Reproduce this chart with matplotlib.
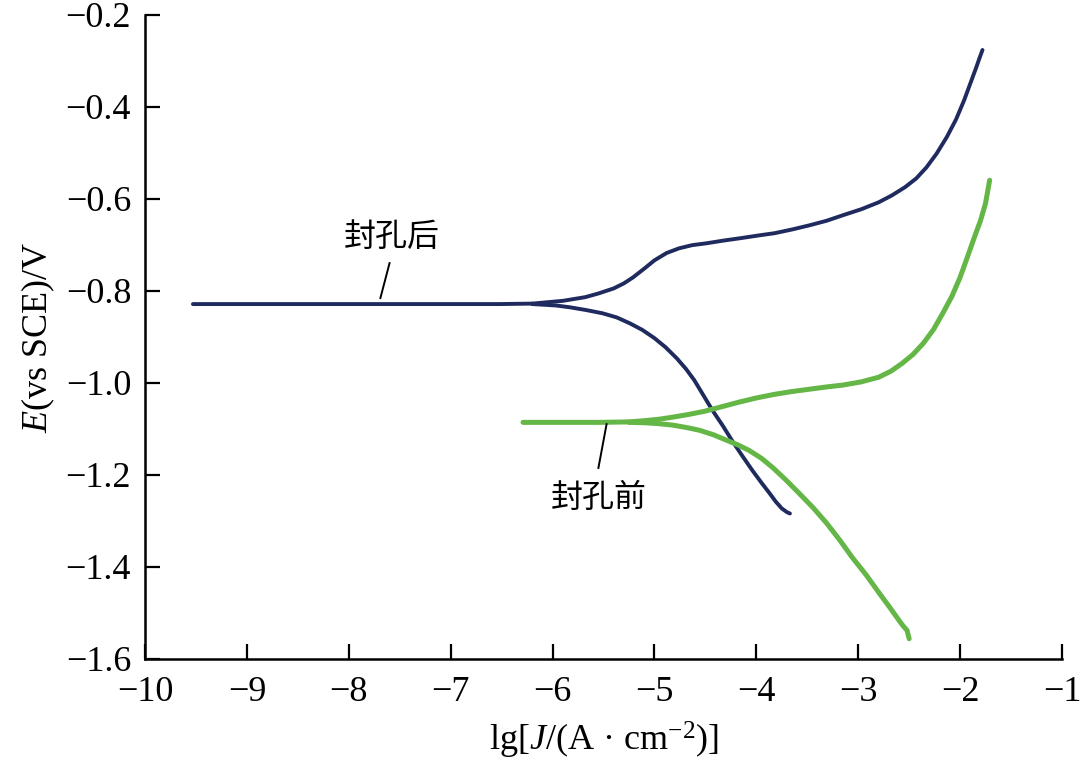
import numpy as np
import matplotlib
matplotlib.use('Agg')
import matplotlib.pyplot as plt

plt.rcParams['font.family'] = ['Liberation Serif', 'Noto Sans CJK SC']
plt.rcParams['mathtext.fontset'] = 'custom'
plt.rcParams['mathtext.rm'] = 'Liberation Serif'
plt.rcParams['mathtext.it'] = 'Liberation Serif:italic'

# after sealing (封孔后): shared flat part, anodic branch, cathodic branch
after_flat_x = [-9.53, -8.0, -7.0, -6.52, -6.20]
after_flat_y = [-0.829, -0.829, -0.829, -0.829, -0.828]
after_anod_x = [-6.20, -5.90, -5.68, -5.55, -5.40, -5.30, -5.21, -5.10, -5.00, -4.88,
                -4.76, -4.63, -4.49, -4.32, -4.16, -3.98, -3.82, -3.65, -3.48, -3.31,
                -3.15, -2.97, -2.80, -2.67, -2.54, -2.43, -2.33, -2.23, -2.13, -2.04,
                -1.96, -1.90, -1.84, -1.81, -1.78]
after_anod_y = [-0.828, -0.822, -0.814, -0.806, -0.795, -0.784, -0.771, -0.752, -0.734, -0.718,
                -0.708, -0.701, -0.697, -0.691, -0.686, -0.680, -0.675, -0.667, -0.658, -0.648,
                -0.636, -0.623, -0.608, -0.593, -0.575, -0.556, -0.532, -0.502, -0.466, -0.428,
                -0.386, -0.350, -0.314, -0.295, -0.277]
after_cath_x = [-6.20, -5.97, -5.83, -5.67, -5.51, -5.37, -5.24, -5.12, -5.00, -4.89,
                -4.78, -4.69, -4.61, -4.52, -4.43, -4.33, -4.24, -4.14, -4.04, -3.95,
                -3.87, -3.81, -3.75, -3.70, -3.67]
after_cath_y = [-0.829, -0.832, -0.836, -0.842, -0.849, -0.858, -0.871, -0.885, -0.903, -0.923,
                -0.947, -0.970, -0.994, -1.027, -1.060, -1.093, -1.125, -1.158, -1.190, -1.217,
                -1.240, -1.258, -1.273, -1.281, -1.284]

# before sealing (封孔前)
before_flat_x = [-6.29, -5.8, -5.54, -5.25]
before_flat_y = [-1.086, -1.086, -1.086, -1.085]
before_anod_x = [-5.25, -5.08, -4.95, -4.83, -4.67, -4.51, -4.34, -4.17, -4.00, -3.82,
                 -3.65, -3.48, -3.31, -3.15, -2.97, -2.80, -2.68, -2.57, -2.46, -2.36,
                 -2.26, -2.17, -2.08, -2.00, -1.93, -1.86, -1.80, -1.75, -1.73, -1.71]
before_anod_y = [-1.085, -1.082, -1.079, -1.075, -1.069, -1.062, -1.052, -1.042, -1.033, -1.025,
                 -1.019, -1.014, -1.009, -1.005, -0.998, -0.988, -0.975, -0.958, -0.938, -0.914,
                 -0.884, -0.849, -0.812, -0.771, -0.728, -0.684, -0.648, -0.610, -0.585, -0.560]
before_cath_x = [-5.25, -5.08, -4.95, -4.82, -4.69, -4.56, -4.42, -4.29, -4.18, -4.07,
                 -3.95, -3.84, -3.71, -3.58, -3.44, -3.31, -3.18, -3.06, -2.92, -2.79,
                 -2.69, -2.60, -2.56, -2.52, -2.50]
before_cath_y = [-1.086, -1.087, -1.089, -1.092, -1.097, -1.103, -1.113, -1.125, -1.135, -1.147,
                 -1.164, -1.184, -1.211, -1.240, -1.272, -1.305, -1.342, -1.379, -1.418, -1.458,
                 -1.488, -1.516, -1.528, -1.538, -1.556]

blue = '#1f2a5e'
green = '#64b646'

fig = plt.figure(figsize=(10.8, 7.77), dpi=100)
ax = fig.add_axes([0.1343, 0.1519, 0.849, 0.8294])

for xs, ys in [(after_flat_x, after_flat_y), (after_anod_x, after_anod_y),
               (after_cath_x, after_cath_y)]:
    ax.plot(xs, ys, color=blue, lw=2.8, solid_capstyle='round', solid_joinstyle='round')
for xs, ys in [(before_flat_x, before_flat_y), (before_anod_x, before_anod_y),
               (before_cath_x, before_cath_y)]:
    ax.plot(xs, ys, color=green, lw=3.6, solid_capstyle='round', solid_joinstyle='round')

# labels with leader lines
ax.plot([-7.60, -7.69], [-0.740, -0.816], color='black', lw=1.4)
ax.text(-7.58, -0.683, '封孔后', family='Noto Sans CJK SC', fontsize=23,
        ha='center', va='center')
ax.plot([-5.47, -5.55], [-1.090, -1.185], color='black', lw=1.4)
ax.text(-5.55, -1.250, '封孔前', family='Noto Sans CJK SC', fontsize=23,
        ha='center', va='center')

ax.set_xlim(-10, -1)
ax.set_ylim(-1.6, -0.2)
ax.set_xticks(np.arange(-10, 0, 1))
ax.set_yticks(np.arange(-1.6, -0.19, 0.2))
ax.set_yticklabels(['\u22121.6', '\u22121.4', '\u22121.2', '\u22121.0', '\u22120.8',
                    '\u22120.6', '\u22120.4', '\u22120.2'])
ax.spines['top'].set_visible(False)
ax.spines['right'].set_visible(False)
for s in ['left', 'bottom']:
    ax.spines[s].set_linewidth(1.8)
ax.tick_params(axis='both', direction='in', length=11, width=1.6, labelsize=26)
ax.tick_params(axis='x', pad=12)
ax.tick_params(axis='y', pad=10)

ax.set_xlabel('lg[$J$/(A \u00b7 cm$^{-2}$)]', fontsize=26, labelpad=8)
ax.set_ylabel('$E$(vs SCE)/V', fontsize=26, labelpad=6)

fig.savefig('out.png', dpi=100)
